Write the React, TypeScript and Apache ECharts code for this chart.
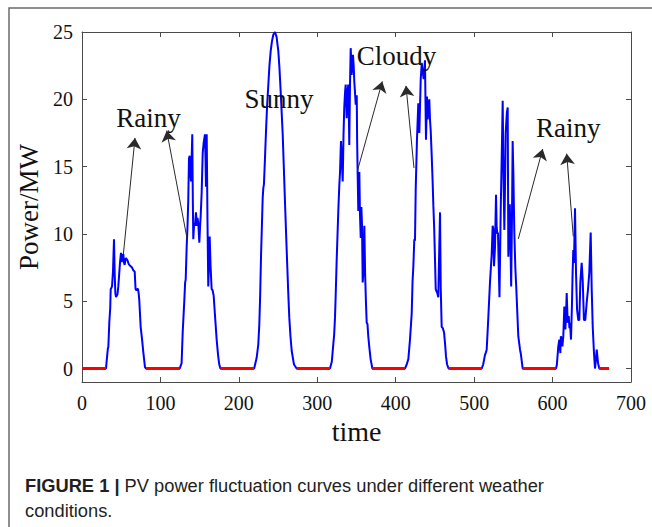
import React, { useEffect, useRef } from 'react';
import * as echarts from 'echarts';

// ---- data (time index, MW) ----
const day1: number[][] = [[30.6,0],[32,0.9],[33,1.5],[33.6,1.6],[34.8,3.4],[36,4.5],[36.6,5.9],[37.5,6.0],[38.3,6.1],[39.5,7.2],[40.8,9.6],[41.7,7.0],[42.5,5.6],[43.4,5.3],[44.2,5.4],[45.2,5.5],[46.3,6.1],[47.4,7.0],[48.5,7.9],[49.7,8.6],[50.6,7.9],[51.4,8.3],[52.7,8.5],[53.5,7.9],[54.4,7.7],[55.3,8.1],[56.1,8.2],[57.2,8.1],[58.2,8.0],[59.3,7.8],[60.3,7.7],[62.1,7.6],[63.8,7.5],[65.4,7.3],[67.2,7.2],[67.7,6.6],[68.3,5.9],[69.5,5.8],[70.5,5.9],[71.5,5.9],[72.2,5.6],[73,5.1],[74,4.0],[74.8,3.1],[76.5,2.2],[78.2,1.2],[80.3,0.1],[81.6,0]];
const day2: number[][] = [[124.5,0],[127,0.4],[128.4,2.7],[130.5,5.1],[131.5,6.4],[132.2,6.6],[133.5,9.1],[134.5,10.5],[135.5,12.5],[136.4,15.6],[137.3,15.8],[138.2,14.5],[139,13.9],[139.8,15.5],[140.6,17.4],[141.3,12.5],[141.9,9.6],[143,10.8],[144.1,10.6],[145.3,11.6],[146.6,10.6],[147.3,11.2],[148.3,10.8],[149.6,9.35],[150.5,10.5],[151.3,11.3],[152.6,13.1],[153.9,16.0],[155.2,16.8],[156.8,17.4],[157.5,15.5],[158.1,13.5],[159,17.4],[160,11],[161,6.1],[162,8],[162.8,9.8],[164,7.5],[165.3,5.9],[166.6,5.8],[167.9,5.4],[169.5,4.0],[171.7,2.15],[173.5,1.0],[175,0.3],[176.5,0]];
const day3: number[][] = [[219.5,0],[222.7,0.8],[224.8,1.8],[226.1,3.3],[227.2,5.5],[228.2,8.2],[230.4,12.7],[231.2,13.4],[232,13.7],[233.3,15.6],[234.6,17.6],[236,19.5],[237.6,21.1],[239,22.5],[240.6,23.6],[242.2,24.3],[243.9,24.8],[246.1,25.0],[247.2,24.8],[248.2,24.6],[249.2,24.1],[250.3,23.6],[251.8,22.3],[253.3,20.6],[254.6,19.0],[255.9,17.4],[257.3,15.0],[258.8,12.4],[260.3,9.9],[261.8,7.5],[263,5.6],[264.3,3.8],[265.8,2.4],[267.4,1.3],[270.3,0.3],[273.7,0]];
const day4: number[][] = [[316.2,0],[318.5,0.5],[320.4,1.8],[321.5,2.5],[322.6,3.8],[323.5,5.5],[324.7,8.0],[326.8,11.7],[328,13.5],[329,14.6],[330.2,16.9],[331.3,15.5],[332.4,13.9],[333.5,17.5],[334.4,19.4],[335.4,20.5],[336.2,21.1],[336.8,20.0],[337.5,18.6],[338.5,20.5],[339.5,21.1],[340.2,19.0],[340.8,16.6],[341.7,21.0],[342.6,23.8],[343.2,23.0],[343.9,21.8],[344.7,22.8],[345.5,23.3],[346.4,22.5],[347.2,21.3],[348.1,20.5],[349,19.6],[350.3,20.3],[350.8,17.0],[351.5,14.4],[352.3,11.7],[353,13],[353.6,14.6],[354.4,11.5],[355.4,9.7],[356.2,12.0],[357,10.7],[357.9,6.4],[358.6,7.0],[359.3,9.0],[360,10.6],[361,7.0],[362,5.0],[363,3.4],[364,3.3],[365,2.4],[366.5,1.5],[368,0.7],[370.2,0]];
const day5: number[][] = [[411.8,0],[414,0.3],[416.1,0.7],[418.2,2.15],[420.4,4.1],[421.5,6.5],[422.5,7.6],[423.7,9.6],[424.6,9.5],[425.5,13.3],[427.1,17.0],[428.8,19.7],[430.1,17.5],[431.9,21.5],[433.2,22.7],[434.4,22.0],[435.7,21.5],[437.3,22.9],[438.6,17.0],[439.9,20.2],[440.8,18.5],[441.6,19.2],[442.8,20.0],[443.7,18.5],[444.6,17.7],[445.9,15.8],[447,14],[448,12.1],[449,10.5],[450.1,8.1],[451,5.9],[452.3,5.7],[453.1,5.6],[454.3,5.3],[455.2,8],[456.5,11.6],[457.4,6],[458.6,3.1],[460,3.0],[461.6,2.7],[463,1.8],[464.1,0.9],[465.5,0.3],[467.5,0]];
const day6: number[][] = [[509.6,0],[511.5,0.3],[513.8,1.0],[515,1.2],[516,1.4],[518,3.7],[520.2,6.4],[522.4,8.5],[523.6,10.6],[524.4,10.4],[525.3,7.6],[526.6,9.0],[527.9,12.9],[528.7,10.5],[529.6,10.0],[530.4,10.1],[531.2,8.0],[532.3,5.3],[533.9,11.8],[535.5,16.8],[536.4,19.9],[537.4,14.5],[538.5,10.3],[539.5,14.0],[540.2,17.5],[541.7,19.0],[542.8,19.4],[543.6,8.3],[544.5,10.5],[545.5,12.2],[546.3,9.4],[547.2,6.1],[548.2,11],[549.1,16.9],[550,14.5],[551.2,10.2],[552.5,7.5],[553.8,5.9],[555,4.2],[556.3,2.4],[557.4,1.9],[558.5,1.4],[559.5,1.1],[561.9,0]];
const day7: number[][] = [[604.4,0],[605.5,0.3],[607.3,1.65],[608.6,2.15],[609.9,1.15],[610.6,2.4],[611.2,2.3],[612.5,1.65],[613.7,2.4],[615,4.6],[616.3,2.9],[617.2,4.0],[618,5.6],[619.3,3.4],[620.6,3.9],[621.5,3.0],[622.2,3.4],[623.5,2.15],[624.8,4.9],[625.5,7.0],[626.4,8.8],[627.3,7.85],[628.6,11.9],[629.9,7.1],[631.2,4.4],[632.8,3.6],[634.1,3.6],[635.4,6.4],[637.1,7.85],[638.4,6.6],[640,3.6],[641.7,3.6],[643.5,4.9],[645.2,5.9],[646.8,7.1],[648.6,10.1],[649.9,5.9],[651.2,3.1],[652.8,1.15],[654.1,0],[655.2,0.6],[656.3,1.4],[658,0.4],[659.6,0]];

// zero-output (night) intervals drawn in red
const nightRanges: number[][] = [[0,30.6],[81.6,124.5],[176.5,219.5],[273.7,316.2],[370.2,411.8],[467.5,509.6],[561.9,604.4],[659.6,672]];

const xTickValues = [0, 100, 200, 300, 400, 500, 600, 700];
const yTickValues = [0, 5, 10, 15, 20, 25];

const weatherNames = ['Rainy', 'Sunny', 'Cloudy', 'Rainy'];
const weatherAt: number[][] = [[84.8, 18.63], [251.2, 20.0], [401, 23.24], [620, 17.87]];

const arrowFrom: number[][] = [[52.7, 8.47], [134.2, 9.58], [351.0, 14.65], [423.3, 14.9], [556.3, 9.63], [626.4, 9.82]];
const arrowTo: number[][] = [[67.6, 17.13], [108.0, 17.67], [382.9, 21.33], [413.1, 21.0], [587.4, 16.31], [618.0, 15.96]];

const SERIF = "'Liberation Serif', 'Times New Roman', serif";
const SANS = "'Liberation Sans', Arial, sans-serif";
const AXIS = '#4a4a4a';
const TXT = '#111111';

export default function App() {
  const ref = useRef<HTMLDivElement>(null);
  useEffect(() => {
    if (!ref.current) return;
    const chart = echarts.init(ref.current, undefined, { renderer: 'svg' });
    const power = [[0, 0], ...day1, ...day2, ...day3, ...day4, ...day5, ...day6, ...day7, [672, 0]];
    const xMax = xTickValues[xTickValues.length - 1];
    const yMax = yTickValues[yTickValues.length - 1];
    const axisLineCommon = { show: true, onZero: false, lineStyle: { color: AXIS, width: 1 } };
    const tickCommon = { show: true, inside: true, length: 5, lineStyle: { color: AXIS, width: 1 } };
    chart.setOption({
      animation: false,
      backgroundColor: '#ffffff',
      grid: { left: 82, right: 21, top: 32, bottom: 145, containLabel: false },
      xAxis: [
        {
          type: 'value', min: 0, max: xMax, interval: 100, position: 'bottom',
          axisLine: axisLineCommon, axisTick: tickCommon,
          axisLabel: { color: TXT, fontFamily: SERIF, fontSize: 20, margin: 11 },
          splitLine: { show: false },
          name: 'time', nameLocation: 'middle', nameGap: 34,
          nameTextStyle: { color: TXT, fontFamily: SERIF, fontSize: 28 },
        },
        {
          type: 'value', min: 0, max: xMax, interval: 100, position: 'top',
          axisLine: axisLineCommon, axisTick: tickCommon,
          axisLabel: { show: false }, splitLine: { show: false },
        },
      ],
      yAxis: [
        {
          type: 'value', min: -1, max: yMax, position: 'left',
          axisLine: axisLineCommon,
          axisTick: { ...tickCommon, customValues: yTickValues },
          axisLabel: { color: TXT, fontFamily: SERIF, fontSize: 20, margin: 9, customValues: yTickValues },
          splitLine: { show: false },
          name: 'Power/MW', nameLocation: 'middle', nameGap: 34, nameRotate: 90,
          nameTextStyle: { color: TXT, fontFamily: SERIF, fontSize: 27 },
        },
        {
          type: 'value', min: -1, max: yMax, position: 'right',
          axisLine: axisLineCommon,
          axisTick: { ...tickCommon, customValues: yTickValues },
          axisLabel: { show: false }, splitLine: { show: false },
        },
      ],
      series: [
        {
          type: 'line', data: power, showSymbol: false, symbol: 'none', clip: false,
          lineStyle: { color: '#0000ff', width: 2 }, z: 2,
        },
        {
          type: 'lines', coordinateSystem: 'cartesian2d', z: 3,
          data: nightRanges.map(([s, e]) => ({ coords: [[s, 0], [e, 0]] })),
          lineStyle: { color: '#ff0000', width: 3, opacity: 1 },
          symbol: ['none', 'none'],
        },
        {
          type: 'lines', coordinateSystem: 'cartesian2d', z: 4,
          data: arrowFrom.map((f, i) => ({ coords: [f, arrowTo[i]] })),
          lineStyle: { color: '#2a2a2a', width: 1, opacity: 1 },
          itemStyle: { color: '#1a1a1a' },
          symbol: ['none', 'arrow'], symbolSize: 11,
        },
        {
          type: 'scatter', z: 5, symbolSize: 1, itemStyle: { color: 'rgba(0,0,0,0)' },
          data: weatherNames.map((n, i) => ({ name: n, value: weatherAt[i] })),
          label: {
            show: true, position: 'inside', formatter: '{b}',
            fontFamily: SERIF, fontSize: 27, color: TXT,
            textBorderWidth: 0, textBorderColor: 'transparent', opacity: 1,
          },
        },
      ],
      graphic: [
        {
          type: 'rect', silent: true,
          shape: { x: 9, y: 8, width: 800, height: 700 },
          style: { fill: 'none', stroke: '#6b6b6b', lineWidth: 1.5 },
        },
        {
          type: 'text', left: 25, top: 476,
          style: {
            text: '{b|FIGURE 1 |} PV power fluctuation curves under different weather',
            rich: { b: { fontWeight: 'bold', fontFamily: SANS, fontSize: 18.3, fill: '#231f20' } },
            fontFamily: SANS, fontSize: 18.3, fill: '#231f20',
          },
        },
        {
          type: 'text', left: 25, top: 501,
          style: { text: 'conditions.', fontFamily: SANS, fontSize: 18.3, fill: '#231f20' },
        },
      ],
    });
    return () => chart.dispose();
  }, []);
  return <div ref={ref} style={{ position: 'absolute', left: 0, top: 0, width: 652, height: 527 }} />;
}
